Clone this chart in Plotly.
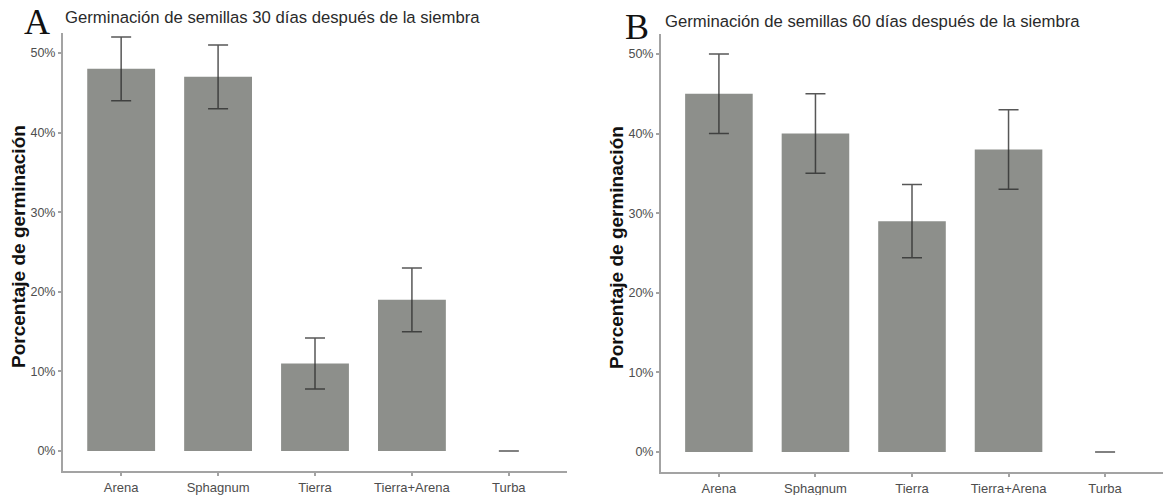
import plotly.graph_objects as go

W, H = 1163, 495

categories = ["Arena", "Sphagnum", "Tierra", "Tierra+Arena", "Turba"]

# Panel A: 30 days
germ_30 = [48, 47, 11, 19, 0]
err_30_plus = [4, 4, 3.2, 4, 0]
err_30_minus = [4, 4, 3.2, 4, 0]

# Panel B: 60 days
germ_60 = [45, 40, 29, 38, 0]
err_60_plus = [5, 5, 4.6, 5, 0]
err_60_minus = [5, 5, 4.6, 5, 0]

title_30 = "Germinación de semillas 30 días después de la siembra"
title_60 = "Germinación de semillas 60 días después de la siembra"
y_title = "Porcentaje de germinación"
y_ticks = [0, 10, 20, 30, 40, 50]
y_ticktext = [f"{v}%" for v in y_ticks]

BAR = "#8d8f8b"
ERR = "rgba(45,45,45,0.8)"
AXIS = "#a3a3a3"
SANS = "Liberation Sans, Arial, sans-serif"
XTICKFONT = dict(family=SANS, size=13, color="#4d4d4d")
YTICKFONT = dict(family=SANS, size=12.5, color="#4d4d4d")

fig = go.Figure()

fig.add_trace(go.Bar(
    x=categories, y=germ_30, width=0.7, marker=dict(color=BAR, line=dict(width=0)),
    error_y=dict(type="data", symmetric=False, array=err_30_plus, arrayminus=err_30_minus,
                 color=ERR, thickness=1.5, width=10),
    xaxis="x", yaxis="y", showlegend=False, hoverinfo="x+y"))

fig.add_trace(go.Bar(
    x=categories, y=germ_60, width=0.7, marker=dict(color=BAR, line=dict(width=0)),
    error_y=dict(type="data", symmetric=False, array=err_60_plus, arrayminus=err_60_minus,
                 color=ERR, thickness=1.5, width=10),
    xaxis="x2", yaxis="y2", showlegend=False, hoverinfo="x+y"))

def px_x(v):
    return v / W

def px_y(v):
    return (H - v) / H

xcommon = dict(type="category", range=[-0.6, 4.6], showline=True, linecolor=AXIS, linewidth=2,
               ticks="outside", ticklen=3, tickcolor=AXIS, tickwidth=1.5, showgrid=False,
               zeroline=False, tickfont=XTICKFONT, fixedrange=True)
ycommon = dict(range=[-2.5, 52.5], tickvals=y_ticks, ticktext=y_ticktext, showline=True,
               linecolor=AXIS, linewidth=2, ticks="outside", ticklen=3, tickcolor=AXIS,
               tickwidth=1.5, showgrid=False, zeroline=False, tickfont=YTICKFONT, fixedrange=True)

fig.update_layout(
    width=W, height=H,
    margin=dict(l=0, r=0, t=0, b=0),
    paper_bgcolor="white", plot_bgcolor="white",
    bargap=0.3,
    xaxis=dict(domain=[px_x(63), px_x(567)], anchor="y", **xcommon),
    yaxis=dict(domain=[px_y(471), px_y(33)], anchor="x", **ycommon),
    xaxis2=dict(domain=[px_x(661), 1.0], anchor="y2", **xcommon),
    yaxis2=dict(domain=[px_y(472), px_y(34)], anchor="x2", **ycommon),
)

ann = []
# Panel titles
ann.append(dict(text=title_30, x=px_x(63), y=px_y(17), xref="paper", yref="paper",
                xanchor="left", yanchor="middle", showarrow=False,
                font=dict(family=SANS, size=16.7, color="#2a2a2a")))
ann.append(dict(text=title_60, x=px_x(663), y=px_y(22), xref="paper", yref="paper",
                xanchor="left", yanchor="middle", showarrow=False,
                font=dict(family=SANS, size=16.7, color="#2a2a2a")))
# Panel letters
ann.append(dict(text="A", x=px_x(37), y=px_y(22), xref="paper", yref="paper",
                xanchor="center", yanchor="middle", showarrow=False,
                font=dict(family="Liberation Serif, Times New Roman, serif", size=36, color="#111111")))
ann.append(dict(text="B", x=px_x(637), y=px_y(27), xref="paper", yref="paper",
                xanchor="center", yanchor="middle", showarrow=False,
                font=dict(family="Liberation Serif, Times New Roman, serif", size=36, color="#111111")))
# Y axis titles
ann.append(dict(text="<b>" + y_title + "</b>", x=px_x(18), y=px_y(247), xref="paper", yref="paper",
                xanchor="center", yanchor="middle", textangle=-90, showarrow=False,
                font=dict(family=SANS, size=19, color="#111111")))
ann.append(dict(text="<b>" + y_title + "</b>", x=px_x(616), y=px_y(248), xref="paper", yref="paper",
                xanchor="center", yanchor="middle", textangle=-90, showarrow=False,
                font=dict(family=SANS, size=19, color="#111111")))

fig.update_layout(annotations=ann)

fig.write_html("out.html", config={"displayModeBar": False},
               post_script="document.body.style.margin='0';document.body.style.overflow='hidden';")
